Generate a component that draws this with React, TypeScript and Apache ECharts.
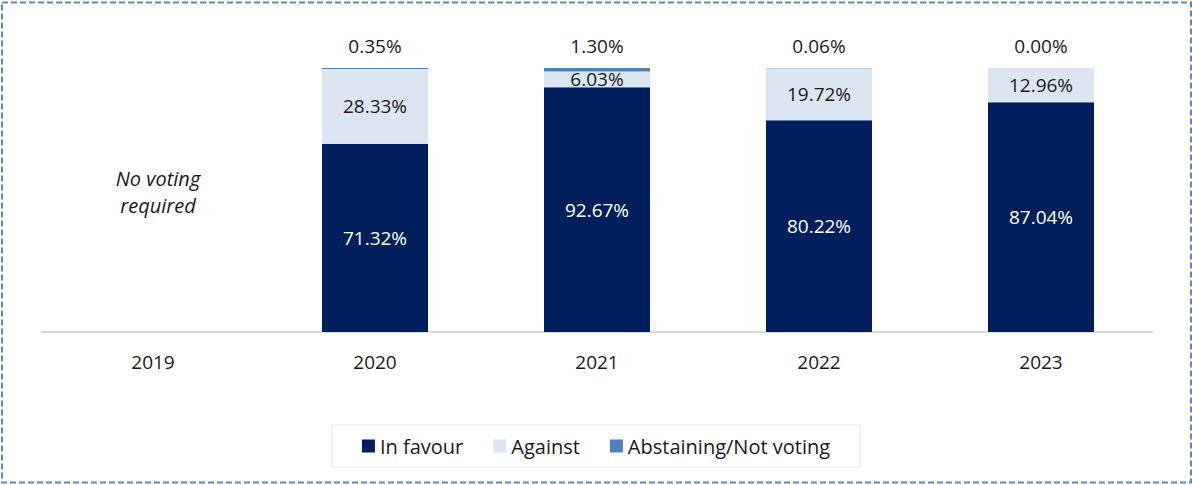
import React, { useEffect, useRef } from "react";
import * as echarts from "echarts";

const years = ["2019", "2020", "2021", "2022", "2023"];
const inFavour = [null, 71.32, 92.67, 80.22, 87.04];
const against = [null, 28.33, 6.03, 19.72, 12.96];
const abstaining = [null, 0.35, 1.3, 0.06, 0.0];
const noVoteNote = "No voting\nrequired";

const FONT = "'Open Sans', 'Noto Sans', sans-serif";

export default function App() {
  const ref = useRef<HTMLDivElement>(null);
  useEffect(() => {
    document.body.style.margin = "0";
    const chart = echarts.init(ref.current!, null, { renderer: "svg" });
    const fmt = (p: any) => (p.value == null ? "" : Number(p.value).toFixed(2) + "%");
    chart.setOption({
      animation: false,
      textStyle: { fontFamily: FONT },
      grid: { left: 42, right: 40, top: 68, bottom: 153 },
      xAxis: {
        type: "category",
        data: years,
        axisLine: { lineStyle: { color: "#d9d9d9", width: 2 } },
        axisTick: { show: false },
        axisLabel: { color: "#1a1a1a", fontSize: 19, margin: 20, fontFamily: FONT },
      },
      yAxis: { type: "value", min: 0, max: 100, show: false, splitLine: { show: false } },
      legend: {
        bottom: 18,
        left: "center",
        itemWidth: 13,
        itemHeight: 13,
        itemGap: 30,
        padding: [11, 30, 11, 30],
        borderColor: "#e8e8e8",
        borderWidth: 1,
        icon: "rect",
        textStyle: { fontSize: 20, color: "#1a1a1a", fontFamily: FONT },
        data: ["In favour", "Against", "Abstaining/Not voting"],
      },
      series: [
        {
          name: "In favour",
          type: "bar",
          stack: "v",
          barWidth: 106,
          data: inFavour,
          itemStyle: { color: "#001f5c" },
          label: { show: true, position: "inside", color: "#ffffff", fontSize: 19, formatter: fmt, fontFamily: FONT },
        },
        {
          name: "Against",
          type: "bar",
          stack: "v",
          barWidth: 106,
          data: against,
          itemStyle: { color: "#dce6f2" },
          label: { show: true, position: "inside", color: "#1a1a1a", fontSize: 19, formatter: fmt, fontFamily: FONT },
        },
        {
          name: "Abstaining/Not voting",
          type: "bar",
          stack: "v",
          barWidth: 106,
          data: abstaining,
          itemStyle: { color: "#4f81bd" },
          label: { show: true, position: "top", distance: 13, color: "#1a1a1a", fontSize: 19, formatter: fmt, fontFamily: FONT },
        },
      ],
      graphic: [
        {
          type: "rect",
          shape: { x: 2, y: 2.5, width: 1189, height: 480 },
          style: { fill: "none", stroke: "#5a8ac6", lineWidth: 2, lineDash: [6, 3] },
          silent: true,
        },
        {
          type: "text",
          x: 158,
          y: 192,
          style: {
            text: noVoteNote,
            fontSize: 20,
            fontStyle: "italic",
            fontFamily: FONT,
            fill: "#1a1a1a",
            align: "center",
            verticalAlign: "middle",
            lineHeight: 27,
          },
        },
      ],
    });
    return () => chart.dispose();
  }, []);
  return <div ref={ref} style={{ width: 1192, height: 485 }} />;
}
